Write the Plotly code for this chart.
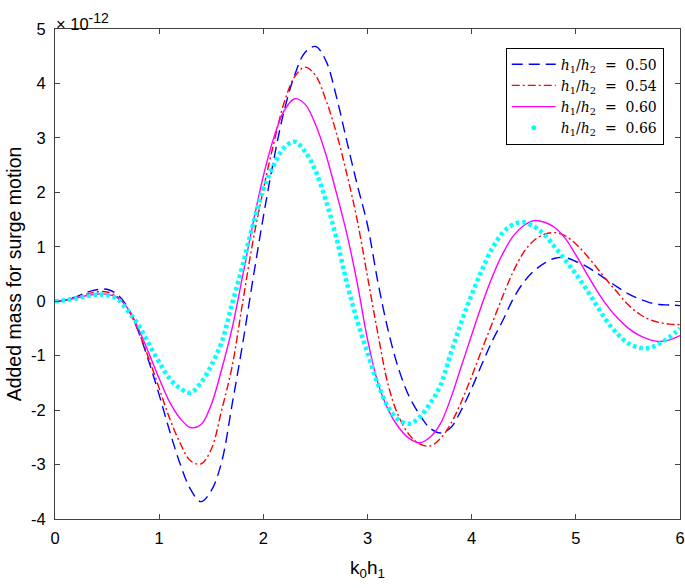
import plotly.graph_objects as go

# k0*h1 sample points (read at 0.1 steps)
k0h1 = [round(0.1 * i, 1) for i in range(61)]

# added mass for surge motion, in units of 1e-12
am_050 = [0.0, 0.02, 0.08, 0.16, 0.21, 0.22, 0.12, -0.12, -0.55, -1.1,
          -1.72, -2.38, -2.98, -3.45, -3.68, -3.48, -2.95, -1.9, -0.8, 0.4,
          1.55, 2.6, 3.5, 4.15, 4.57, 4.68, 4.42, 3.77, 2.95, 2.15,
          1.4, 0.35, -0.55, -1.25, -1.75, -2.08, -2.33, -2.42, -2.32, -2.0,
          -1.6, -1.15, -0.72, -0.35, 0.05, 0.35, 0.56, 0.7, 0.79, 0.8,
          0.73, 0.64, 0.52, 0.39, 0.26, 0.14, 0.05, -0.02, -0.06, -0.07, -0.08]
am_054 = [0.0, 0.02, 0.07, 0.13, 0.17, 0.17, 0.08, -0.15, -0.55, -1.05,
          -1.6, -2.15, -2.6, -2.93, -2.99, -2.72, -2.0, -1.2, -0.04, 1.1,
          2.05, 2.9, 3.65, 4.12, 4.3, 4.15, 3.7, 3.1, 2.35, 1.5,
          0.45, -0.6, -1.55, -2.12, -2.45, -2.62, -2.66, -2.52, -2.25, -1.85,
          -1.38, -0.88, -0.39, 0.1, 0.55, 0.9, 1.12, 1.23, 1.26, 1.2,
          1.05, 0.85, 0.62, 0.38, 0.16, -0.06, -0.22, -0.33, -0.39, -0.42, -0.43]
am_060 = [0.0, 0.02, 0.06, 0.1, 0.13, 0.13, 0.06, -0.13, -0.5, -0.95,
          -1.42, -1.85, -2.15, -2.32, -2.27, -1.9, -1.25, -0.5, 0.45, 1.42,
          2.3, 3.0, 3.5, 3.72, 3.62, 3.25, 2.7, 2.0, 1.25, 0.35,
          -0.7, -1.5, -2.0, -2.32, -2.52, -2.6, -2.5, -2.25, -1.78, -1.2,
          -0.62, -0.05, 0.46, 0.88, 1.2, 1.39, 1.48, 1.45, 1.35, 1.15,
          0.85, 0.52, 0.2, -0.08, -0.31, -0.49, -0.62, -0.7, -0.74, -0.71, -0.63]
am_066 = [0.0, 0.02, 0.05, 0.09, 0.12, 0.11, 0.04, -0.18, -0.43, -0.78,
          -1.12, -1.42, -1.6, -1.68, -1.5, -1.18, -0.75, -0.05, 0.65, 1.4,
          2.05, 2.5, 2.82, 2.93, 2.75, 2.4, 1.85, 1.17, 0.35, -0.35,
          -0.95, -1.52, -1.95, -2.18, -2.25, -2.13, -1.88, -1.55, -0.95, -0.39,
          0.12, 0.58, 0.98, 1.26, 1.41, 1.45, 1.37, 1.22, 0.99, 0.75,
          0.5, 0.22, -0.08, -0.37, -0.6, -0.77, -0.85, -0.86, -0.78, -0.66, -0.5]

ratios = ["0.50", "0.54", "0.60", "0.66"]
xticks = [0, 1, 2, 3, 4, 5, 6]
yticks = [-4, -3, -2, -1, 0, 1, 2, 3, 4, 5]


def lbl(r):
    return "<i>h</i><sub>1</sub>/<i>h</i><sub>2</sub>\u00a0 = \u00a0" + r


fig = go.Figure()
fig.add_trace(go.Scatter(x=k0h1, y=am_050, mode="lines", name=lbl(ratios[0]),
                         line=dict(color="#0000ff", width=1.4, dash="11px,6px", shape="spline")))
fig.add_trace(go.Scatter(x=k0h1, y=am_054, mode="lines", name=lbl(ratios[1]),
                         line=dict(color="#ff0000", width=1.4, dash="8px,3px,2px,3px", shape="spline")))
fig.add_trace(go.Scatter(x=k0h1, y=am_060, mode="lines", name=lbl(ratios[2]),
                         line=dict(color="#ff00ff", width=1.4, shape="spline")))
# dotted cyan curve drawn as a dashed spline, legend entry as a single dot
fig.add_trace(go.Scatter(x=k0h1, y=am_066, mode="lines", showlegend=False,
                         line=dict(color="#00ffff", width=4.5, dash="3.5px,3px", shape="spline")))
fig.add_trace(go.Scatter(x=[None], y=[None], mode="markers", name=lbl(ratios[3]),
                         marker=dict(color="#00ffff", size=5)))

axfont = dict(family="Liberation Sans, Arial", size=16.5, color="black")
fig.update_layout(
    width=685, height=588,
    margin=dict(l=55, r=5, t=29, b=69),
    paper_bgcolor="white", plot_bgcolor="white",
    font=axfont,
    xaxis=dict(range=[0, 6], tickvals=xticks, ticktext=[str(v) for v in xticks],
               ticks="inside", ticklen=5, automargin=False, ticklabeloverflow="allow",
               ticklabelstandoff=4,
               mirror="ticks", showline=True, linecolor="#404040", linewidth=1,
               showgrid=False, zeroline=False, tickfont=axfont,
               title=dict(text="k<sub>0</sub>h<sub>1</sub>", font=dict(size=19), standoff=14)),
    yaxis=dict(range=[-4, 5], tickvals=yticks, ticktext=[str(v) for v in yticks],
               ticks="inside", ticklen=5, automargin=False, ticklabelstandoff=5,
               mirror="ticks", showline=True, linecolor="#404040", linewidth=1,
               showgrid=False, zeroline=False, tickfont=axfont,
               title=dict(text="Added mass for surge motion", font=dict(size=19.5), standoff=4)),
    legend=dict(x=0.974, y=0.962, xanchor="right", yanchor="top",
                bgcolor="white", bordercolor="black", borderwidth=1,
                font=dict(family="DejaVu Serif", size=14),
                itemwidth=44, tracegroupgap=0),
    annotations=[dict(text="\u00d7 10<sup><span style='font-size:14px'>-12</span></sup>",
                      xref="paper", yref="paper",
                      x=0, y=1, xanchor="left", yanchor="bottom", showarrow=False,
                      font=dict(size=16.5), xshift=-1, yshift=-6)],
)

# page body has a default 8px margin; drop it so the figure fills the window
fig.write_html("out.html", config={"displayModeBar": False},
               post_script="document.body.style.margin='0';")
